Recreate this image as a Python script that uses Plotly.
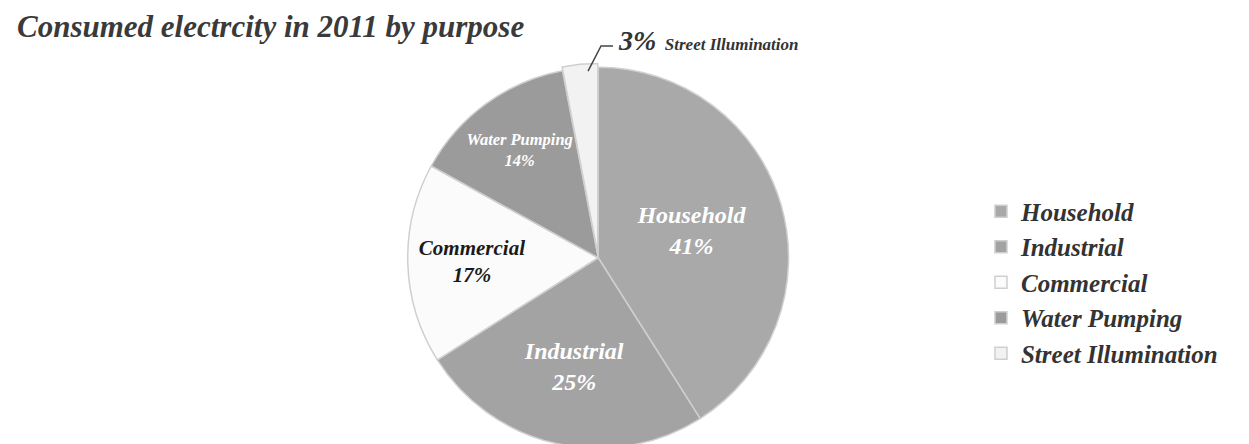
import plotly.graph_objects as go

labels = ["Household", "Industrial", "Commercial", "Water Pumping", "Street Illumination"]
values = [41, 25, 17, 14, 3]
pct_text = ["41%", "25%", "17%", "14%", "3%"]
slice_colors = ["#a9a9a9", "#a3a3a3", "#fbfbfb", "#9b9b9b", "#f2f2f2"]
text_colors = ["#ffffff", "#ffffff", "#1a1a1a", "#ffffff", "#333333"]
text_sizes = [24, 24, 21, 22, 20]

serif = "Liberation Serif"

texts = [f"{l}<br>{p}" for l, p in zip(labels, pct_text)]
texts[-1] = ""

fig = go.Figure(go.Pie(
    labels=labels,
    values=values,
    text=texts,
    textinfo="text",
    textposition="inside",
    insidetextorientation="horizontal",
    sort=False,
    direction="clockwise",
    rotation=0,
    pull=[0, 0, 0, 0, 0.02],
    marker=dict(colors=slice_colors, line=dict(color="#cfcfcf", width=1.5)),
    textfont=dict(family=serif, size=text_sizes, color=text_colors,
                  weight="bold", style="italic"),
    domain=dict(x=[0.295, 0.65], y=[0.0, 0.875]),
    hoverinfo="label+percent",
))

fig.update_layout(
    width=1249, height=444,
    margin=dict(l=0, r=0, t=0, b=0),
    paper_bgcolor="white",
    plot_bgcolor="white",
    showlegend=True,
    legend=dict(
        x=0.779, y=0.382, xanchor="left", yanchor="middle",
        font=dict(family=serif, size=25, color="#333333", weight="bold", style="italic"),
        itemwidth=30,
    ),
    annotations=[
        dict(text="Consumed electrcity in 2011 by purpose",
             x=0.006, y=0.958, xref="paper", yref="paper",
             xanchor="left", yanchor="middle", showarrow=False,
             font=dict(family=serif, size=31, color="#3a3a3a", weight="bold", style="italic")),
        dict(text="<span style='font-size:28px'>3%</span>  Street Illumination",
             x=0.4865, y=0.927, xref="paper", yref="paper",
             xanchor="left", yanchor="middle", showarrow=False,
             font=dict(family=serif, size=17, color="#333333", weight="bold", style="italic")),
    ],
    shapes=[
        dict(type="path", xref="paper", yref="paper",
             path="M 0.4644 0.858 L 0.4748 0.9144 L 0.4844 0.9144",
             line=dict(color="#444444", width=1.5)),
    ],
)

fig.write_html("out.html")
